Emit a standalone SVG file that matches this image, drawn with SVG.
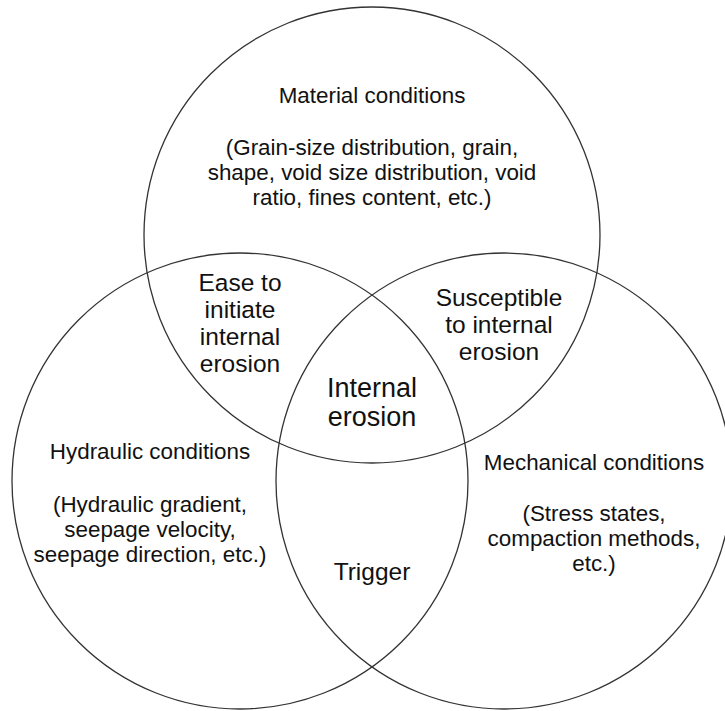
<svg xmlns="http://www.w3.org/2000/svg" width="725" height="711" viewBox="0 0 725 711">
<style>
.c{fill:none;stroke:#333;stroke-width:1.3}
.t{font-family:"Liberation Sans",Arial,sans-serif;fill:#111;text-anchor:middle}
.b{font-size:22.4px}
.m{font-size:24.5px}
.l{font-size:27px}
</style>
<rect width="725" height="711" fill="#fff"/>
<g id="material">
<circle class="c" cx="372" cy="235" r="228"/>
<text class="t b" x="372" y="103">Material conditions</text>
<text class="t b" x="372" y="155">(Grain-size distribution, grain,</text>
<text class="t b" x="372" y="180">shape, void size distribution, void</text>
<text class="t b" x="372" y="205">ratio, fines content, etc.)</text>
</g>
<g id="hydraulic">
<circle class="c" cx="240" cy="481" r="228"/>
<text class="t b" x="150" y="459">Hydraulic conditions</text>
<text class="t b" x="150" y="512">(Hydraulic gradient,</text>
<text class="t b" x="150" y="537">seepage velocity,</text>
<text class="t b" x="150" y="562">seepage direction, etc.)</text>
</g>
<g id="mechanical">
<circle class="c" cx="504" cy="481" r="228"/>
<text class="t b" x="594" y="470">Mechanical conditions</text>
<text class="t b" x="594" y="521">(Stress states,</text>
<text class="t b" x="594" y="546">compaction methods,</text>
<text class="t b" x="594" y="571">etc.)</text>
</g>
<g id="ease">
<text class="t m" x="240" y="291">Ease to</text>
<text class="t m" x="240" y="318">initiate</text>
<text class="t m" x="240" y="345">internal</text>
<text class="t m" x="240" y="372">erosion</text>
</g>
<g id="susceptible">
<text class="t m" x="499" y="306">Susceptible</text>
<text class="t m" x="499" y="333">to internal</text>
<text class="t m" x="499" y="360">erosion</text>
</g>
<g id="internal">
<text class="t l" x="372" y="397">Internal</text>
<text class="t l" x="372" y="426">erosion</text>
</g>
<g id="trigger">
<text class="t m" x="372" y="580">Trigger</text>
</g>
</svg>
